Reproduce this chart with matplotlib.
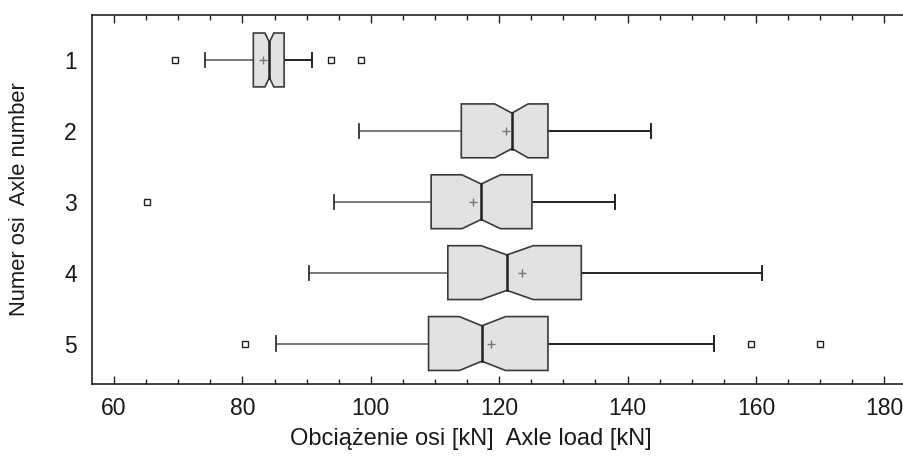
import numpy as np
import matplotlib
matplotlib.use("Agg")
import matplotlib.pyplot as plt
from matplotlib.ticker import MultipleLocator

# (kN)
axles = ["1", "2", "3", "4", "5"]
whisker_lo = [74.2, 98.1, 94.2, 90.3, 85.2]
q1 = [81.7, 114.1, 109.4, 112.0, 109.0]
notch_lo = [83.5, 119.3, 114.2, 117.2, 113.8]
median = [84.2, 122.0, 117.2, 121.2, 117.3]
notch_hi = [84.9, 124.5, 120.2, 125.3, 121.0]
q3 = [86.5, 127.6, 125.1, 132.8, 127.6]
whisker_hi = [90.8, 143.6, 138.0, 160.9, 153.5]
means = [83.2, 121.0, 115.9, 123.5, 118.7]
outliers = [[69.5, 93.8, 98.5], [], [65.2], [], [80.4, 159.2, 170.0]]

plt.rcParams['font.family'] = ['Liberation Sans', 'DejaVu Sans']

fig = plt.figure(figsize=(9.04, 4.61), dpi=100)
ax = fig.add_axes([0.1018, 0.1681, 0.8982, 0.7987])

h = 0.38    # pol wysokosci pudelka
w = 0.25    # talia wciecia
cap = 0.1
edge = '#3a3a3a'

for i in range(len(axles)):
    y = i + 1
    xs = [q1[i], notch_lo[i], median[i], notch_hi[i], q3[i],
          q3[i], notch_hi[i], median[i], notch_lo[i], q1[i]]
    ys = [y - h, y - h, y - w, y - h, y - h,
          y + h, y + h, y + w, y + h, y + h]
    ax.fill(xs, ys, facecolor='#e2e2e2', edgecolor=edge, lw=1.2, zorder=3)
    ax.plot([median[i], median[i]], [y - w, y + w], color='#222', lw=1.8, zorder=4)
    # wasy
    ax.plot([whisker_lo[i], q1[i]], [y, y], color='#555', lw=1.1, zorder=2)
    ax.plot([q3[i], whisker_hi[i]], [y, y], color='#222', lw=1.4, zorder=2)
    ax.plot([whisker_lo[i]] * 2, [y - cap, y + cap], color='#333', lw=1.3, zorder=2)
    ax.plot([whisker_hi[i]] * 2, [y - cap, y + cap], color='#222', lw=1.4, zorder=2)
    # srednia
    ax.plot(means[i], y, marker='+', color='#777', ms=6, mew=1.0, zorder=5)
    # odstajace
    if outliers[i]:
        ax.plot(outliers[i], [y] * len(outliers[i]), ls='none', marker='s', ms=4.2,
                mfc='white', mec='#222', mew=1.0, zorder=5)

ax.set_xlim(56.57, 183.07)
ax.set_ylim(5.564, 0.37)
ax.set_yticks(range(1, len(axles) + 1))
ax.set_yticklabels(axles)
ax.xaxis.set_major_locator(MultipleLocator(20))
ax.xaxis.set_minor_locator(MultipleLocator(5))

ax.tick_params(axis='x', which='both', direction='in', top=True, bottom=True,
               color='#222', width=1.0, labelsize=16.5, pad=9.5, labelcolor='#1a1a1a')
ax.tick_params(axis='x', which='major', length=6)
ax.tick_params(axis='x', which='minor', length=3.5)
ax.tick_params(axis='y', length=0, labelsize=16.5, pad=11, labelcolor='#1a1a1a')

for s in ['left', 'top', 'bottom']:
    ax.spines[s].set_color('#222')
    ax.spines[s].set_linewidth(1.2)
ax.spines['right'].set_visible(False)

ax.set_xlabel('Obciążenie osi [kN]  Axle load [kN]', fontsize=17, color='#1a1a1a', va='center')
ax.xaxis.set_label_coords(0.466, -0.15)
ax.set_ylabel('Numer osi  Axle number', fontsize=15.8, color='#1a1a1a', va='center')
ax.yaxis.set_label_coords(-0.0899, 0.5)

fig.savefig('out.png', dpi=100)
